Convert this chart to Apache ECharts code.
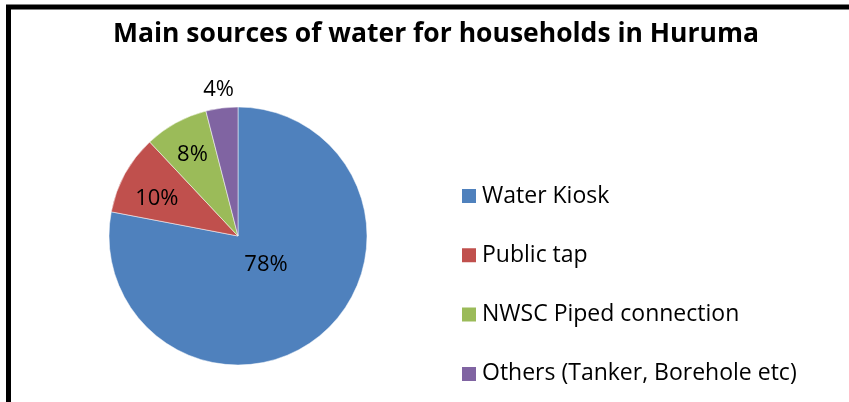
<!DOCTYPE html>
<html>
<head>
<meta charset="utf-8">
<script src="https://cdn.jsdelivr.net/npm/echarts@6/dist/echarts.min.js"></script>
<style>
  html, body { margin: 0; padding: 0; background: #fff; }
  #chart { width: 849px; height: 402px; }
</style>
</head>
<body>
<div id="chart"></div>
<script>
// Household water sources in Huruma (share of households, %)
const sources = ['Water Kiosk', 'Public tap', 'NWSC Piped connection', 'Others (Tanker, Borehole etc)'];
const shares = [78, 10, 8, 4];
const sliceColors = ['#4F81BD', '#C0504D', '#9BBB59', '#8064A2'];

// Nudges applied to each percentage label from its default inside spot
const labelNudge = [[-15, -23], [-22, -5], [-13, -22], [-11, -79]];

const FONT = '"Open Sans", Lato, sans-serif';

const chart = echarts.init(document.getElementById('chart'), null, { renderer: 'canvas' });

chart.setOption({
  backgroundColor: '#ffffff',
  animation: false,
  title: {
    text: 'Main sources of water for households in Huruma',
    left: 436,
    top: 21,
    padding: 0,
    textAlign: 'center',
    textStyle: { fontFamily: FONT, fontWeight: 'bold', fontSize: 26.5, color: '#000' }
  },
  legend: {
    orient: 'vertical',
    left: 460,
    top: 183,
    padding: 0,
    icon: 'rect',
    itemWidth: 16,
    itemHeight: 16,
    itemGap: 33.3,
    itemTextGap: 7,
    selectedMode: false,
    textStyle: { fontFamily: FONT, fontSize: 23, lineHeight: 23, color: '#000', padding: [3, 0, 0, 0] },
    data: sources
  },
  graphic: [{
    type: 'rect',
    shape: { x: 8.5, y: 7, width: 1200, height: 1200 },
    style: { fill: 'none', stroke: '#000', lineWidth: 5 },
    silent: true,
    z: 100
  }],
  series: [{
    type: 'pie',
    center: [238, 236],
    radius: [0, 129],
    startAngle: 90,
    clockwise: true,
    avoidLabelOverlap: false,
    itemStyle: { borderColor: '#ffffff', borderWidth: 0.5 },
    label: {
      show: true,
      position: 'inside',
      formatter: '{c}%',
      fontFamily: FONT,
      fontSize: 22,
      color: '#000'
    },
    labelLine: { show: false },
    labelLayout: function (p) {
      const n = labelNudge[p.dataIndex];
      return { dx: n[0], dy: n[1] };
    },
    emphasis: { disabled: true },
    data: sources.map((name, i) => ({
      name: name,
      value: shares[i],
      itemStyle: { color: sliceColors[i] }
    }))
  }]
});
</script>
</body>
</html>
